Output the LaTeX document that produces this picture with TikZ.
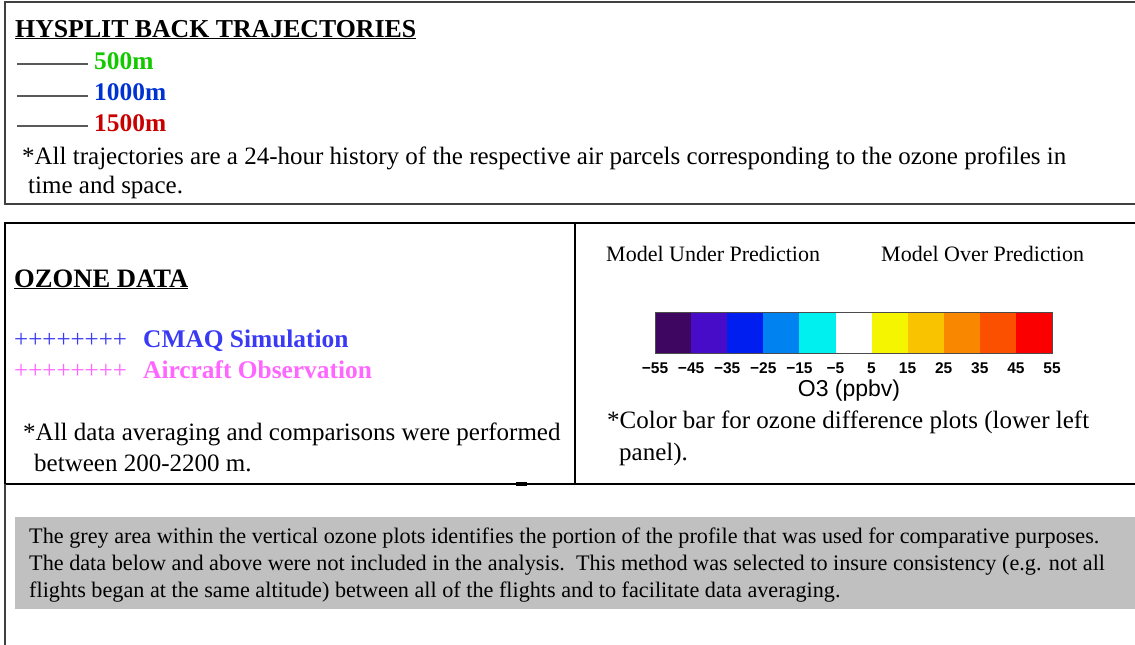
\documentclass[tikz,border=0pt]{standalone}
\usepackage{fontspec}
\setmainfont{Liberation Serif}
\newfontfamily\barfont{Liberation Sans}

\definecolor{green500}{RGB}{20,200,0}
\definecolor{blue1000}{RGB}{0,50,210}
\definecolor{red1500}{RGB}{200,0,0}
\definecolor{cmaqblue}{RGB}{58,58,245}
\definecolor{obspink}{RGB}{255,102,255}
\definecolor{noteback}{RGB}{192,192,192}
% colour bar, from -55 to 55
\definecolor{cb1}{RGB}{62,6,96}
\definecolor{cb2}{RGB}{70,12,200}
\definecolor{cb3}{RGB}{0,30,240}
\definecolor{cb4}{RGB}{0,130,240}
\definecolor{cb5}{RGB}{0,240,240}
\definecolor{cb6}{RGB}{255,255,255}
\definecolor{cb7}{RGB}{245,245,0}
\definecolor{cb8}{RGB}{250,195,0}
\definecolor{cb9}{RGB}{250,135,0}
\definecolor{cb10}{RGB}{250,80,0}
\definecolor{cb11}{RGB}{250,0,0}

\tikzset{
  txt/.style={anchor=base west,inner sep=0pt,font=\fontsize{25}{25}\selectfont},
  small/.style={anchor=base west,inner sep=0pt,font=\fontsize{22}{22}\selectfont},
  hdr/.style={anchor=base west,inner sep=0pt,font=\fontsize{25.4}{25.4}\selectfont\bfseries},
  tick/.style={anchor=base,inner sep=0pt,font=\barfont\fontsize{15.5}{15.5}\selectfont\bfseries},
  legline/.style={line width=1.6pt,black!65},
  frame/.style={line width=1.5pt,black!75},
  frame2/.style={line width=2pt,black}
}

\begin{document}
\begin{tikzpicture}[x=1pt,y=-1pt]
  \useasboundingbox (0,0) rectangle (1135,645);

  %caixas
  \draw[frame] (1140,2) -- (5,2) -- (5,204) -- (1140,204);
  \draw[frame2] (1140,223) -- (5,223) -- (5,484) -- (1140,484);
  \draw[frame2] (575,223) -- (575,484);
  \draw[line width=3.5pt] (516,484) -- (527,484);
  \draw[frame] (5,484) -- (5,645);

  %trajetorias
  \node[hdr,font=\fontsize{25.8}{25.8}\selectfont\bfseries] (title) at (15,37) {\underline{HYSPLIT BACK TRAJECTORIES}};
  \node[hdr,text=green500] (m500) at (94,69) {500m};
  \node[hdr,text=blue1000] (m1000) at (94,100) {1000m};
  \node[hdr,text=red1500] (m1500) at (94,131) {1500m};
  \coordinate (l500) at (17,64);
  \coordinate (l1000) at (17,96);
  \coordinate (l1500) at (17,126);
  \draw[legline] (l500) -- ([xshift=-6pt]m500.west |- l500);
  \draw[legline] (l1000) -- ([xshift=-6pt]m1000.west |- l1000);
  \draw[legline] (l1500) -- ([xshift=-6pt]m1500.west |- l1500);
  \node[txt] (note1a) at (22,164) {*All trajectories are a 24-hour history of the respective air parcels corresponding to the ozone profiles in};
  \node[txt] (note1b) at (28,193) {time and space.};

  %dados de ozonio
  \node[hdr,font=\fontsize{26.6}{26.6}\selectfont\bfseries] (ozone) at (14,287) {\underline{OZONE DATA}};
  \node[txt,text=cmaqblue] (pcmaq) at (14,347) {++++++++};
  \node[hdr,text=cmaqblue] (cmaq) at (143,347) {CMAQ Simulation};
  \node[txt,text=obspink] (pobs) at (14,378) {++++++++};
  \node[hdr,text=obspink] (obs) at (143,378) {Aircraft Observation};
  \node[txt] (note2a) at (23,440) {*All data averaging and comparisons were performed};
  \node[txt] (note2b) at (34,471) {between 200-2200 m.};

  %barra de cores
  \node[small] (under) at (606,261) {Model Under Prediction};
  \node[small] (over) at (881,261) {Model Over Prediction};
  \fill[cb1] (655,312) rectangle (691.1,353);
  \fill[cb2] (691.1,312) rectangle (727.2,353);
  \fill[cb3] (727.2,312) rectangle (763.3,353);
  \fill[cb4] (763.3,312) rectangle (799.4,353);
  \fill[cb5] (799.4,312) rectangle (835.5,353);
  \fill[cb6] (835.5,312) rectangle (871.5,353);
  \fill[cb7] (871.5,312) rectangle (907.6,353);
  \fill[cb8] (907.6,312) rectangle (943.7,353);
  \fill[cb9] (943.7,312) rectangle (979.8,353);
  \fill[cb10] (979.8,312) rectangle (1015.9,353);
  \fill[cb11] (1015.9,312) rectangle (1052,353);
  \draw[black!70,line width=0.8pt] (655,312) rectangle (1052,353);
  \node[tick] (k1) at (655,373) {−55};
  \node[tick] (k2) at (691.1,373) {−45};
  \node[tick] (k3) at (727.2,373) {−35};
  \node[tick] (k4) at (763.3,373) {−25};
  \node[tick] (k5) at (799.4,373) {−15};
  \node[tick] (k6) at (835.5,373) {−5};
  \node[tick] (k7) at (871.5,373) {5};
  \node[tick] (k8) at (907.6,373) {15};
  \node[tick] (k9) at (943.7,373) {25};
  \node[tick] (k10) at (979.8,373) {35};
  \node[tick] (k11) at (1015.9,373) {45};
  \node[tick] (k12) at (1052,373) {55};
  \node[anchor=base,inner sep=0pt,font=\barfont\fontsize{23}{23}\selectfont] (unit) at (849,396) {O3 (ppbv)};
  \node[txt] (note3a) at (607,428) {*Color bar for ozone difference plots (lower left};
  \node[txt] (note3b) at (619,460) {panel).};

  %area cinza
  \fill[noteback] (15,517) rectangle (1140,609);
  \node[txt,font=\fontsize{22.2}{22.2}\selectfont] (grey1) at (29,543) {The grey area within the vertical ozone plots identifies the portion of the profile that was used for comparative purposes.};
  \node[txt,font=\fontsize{22.2}{22.2}\selectfont] (grey2) at (29,570) {The data below and above were not included in the analysis.\ \ This method was selected to insure consistency (e.g. not all};
  \node[txt,font=\fontsize{22.2}{22.2}\selectfont] (grey3) at (29,597) {flights began at the same altitude) between all of the flights and to facilitate data averaging.};
\end{tikzpicture}
\end{document}
